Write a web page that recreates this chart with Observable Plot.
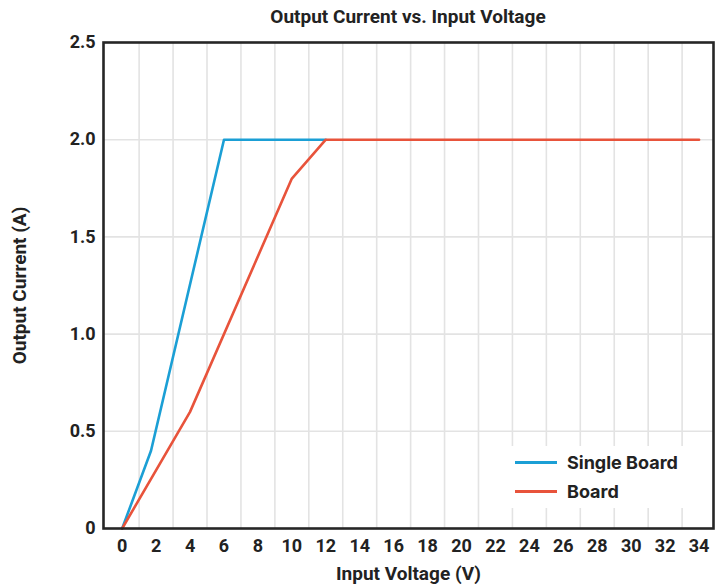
<!DOCTYPE html>
<html>
<head>
<meta charset="utf-8">
<script src="https://cdn.jsdelivr.net/npm/d3@7"></script>
<script src="https://cdn.jsdelivr.net/npm/@observablehq/plot@0.6"></script>
<style>
  html, body { margin: 0; padding: 0; background: #fff; }
  #wrap { position: relative; width: 724px; height: 584px; }
  #title { position: absolute; left: 103px; width: 610px; top: 5px; text-align: center;
    font: bold 19px Roboto, sans-serif; color: #222; }
  #legend { position: absolute; left: 498px; top: 446px; width: 206px; height: 62px; background: #fff;
    font: 700 18px Inter, sans-serif; color: #222; }
  .item { position: absolute; left: 17px; display: flex; align-items: center; height: 22px; }
  .swatch { width: 42px; height: 3px; margin-right: 10px; }
  g[aria-label="x-axis label"] text, g[aria-label="y-axis label"] text { font-size: 19px; }
</style>
</head>
<body>
<div id="wrap">
  <div id="chart"></div>
  <div id="title"></div>
  <div id="legend"></div>
</div>
<script>
const titleText = "Output Current vs. Input Voltage";
const xLabel = "Input Voltage (V)";
const yLabel = "Output Current (A)";

const xTicks = [0, 2, 4, 6, 8, 10, 12, 14, 16, 18, 20, 22, 24, 26, 28, 30, 32, 34];
const yTicks = [0, 0.5, 1.0, 1.5, 2.0, 2.5];
const yTickLabels = ["0", "0.5", "1.0", "1.5", "2.0", "2.5"];
const gridX = [1, 3, 5, 7, 9, 11, 13, 15, 17, 19, 21, 23, 25, 27, 29, 31, 33];
const gridY = [0.5, 1.0, 1.5, 2.0];

const seriesNames = ["Single Board", "Board"];
const seriesColors = ["#1b9fd5", "#e8533b"];

const singleVoltage = [0, 1.7, 6, 12];
const singleCurrent = [0, 0.4, 2.0, 2.0];
const boardVoltage = [0, 4, 10, 12, 34];
const boardCurrent = [0, 0.6, 1.8, 2.0, 2.0];

const singleData = singleVoltage.map((v, i) => ({v, c: singleCurrent[i]}));
const boardData = boardVoltage.map((v, i) => ({v, c: boardCurrent[i]}));

const chart = Plot.plot({
  width: 724,
  height: 584,
  marginTop: 42,
  marginBottom: 56,
  marginLeft: 103,
  marginRight: 11,
  style: {fontFamily: "Roboto, sans-serif", fontSize: "18px", fontWeight: "bold", color: "#222", background: "#fff"},
  x: {domain: [-1.1, 34.85], ticks: xTicks, tickSize: 0, tickPadding: 11,
      label: xLabel, labelAnchor: "center", labelOffset: 51, labelArrow: false},
  y: {domain: [0, 2.5], ticks: yTicks, tickSize: 0, tickPadding: 8,
      tickFormat: d => yTickLabels[yTicks.indexOf(d)],
      label: yLabel, labelAnchor: "center", labelOffset: 91, labelArrow: false},
  marks: [
    Plot.ruleX(gridX, {stroke: "#e3e3e3", strokeWidth: 1.6}),
    Plot.ruleY(gridY, {stroke: "#e3e3e3", strokeWidth: 1.6}),
    Plot.line(singleData, {x: "v", y: "c", stroke: seriesColors[0], strokeWidth: 2.6}),
    Plot.line(boardData, {x: "v", y: "c", stroke: seriesColors[1], strokeWidth: 2.6}),
    Plot.frame({stroke: "#262626", strokeWidth: 2.6})
  ]
});
document.getElementById("chart").appendChild(chart);
document.getElementById("title").textContent = titleText;

const legend = document.getElementById("legend");
seriesNames.forEach((name, i) => {
  const item = document.createElement("div");
  item.className = "item";
  item.style.top = (5 + i * 29) + "px";
  const sw = document.createElement("div");
  sw.className = "swatch";
  sw.style.background = seriesColors[i];
  const t = document.createElement("span");
  t.textContent = name;
  item.appendChild(sw);
  item.appendChild(t);
  legend.appendChild(item);
});
</script>
</body>
</html>
